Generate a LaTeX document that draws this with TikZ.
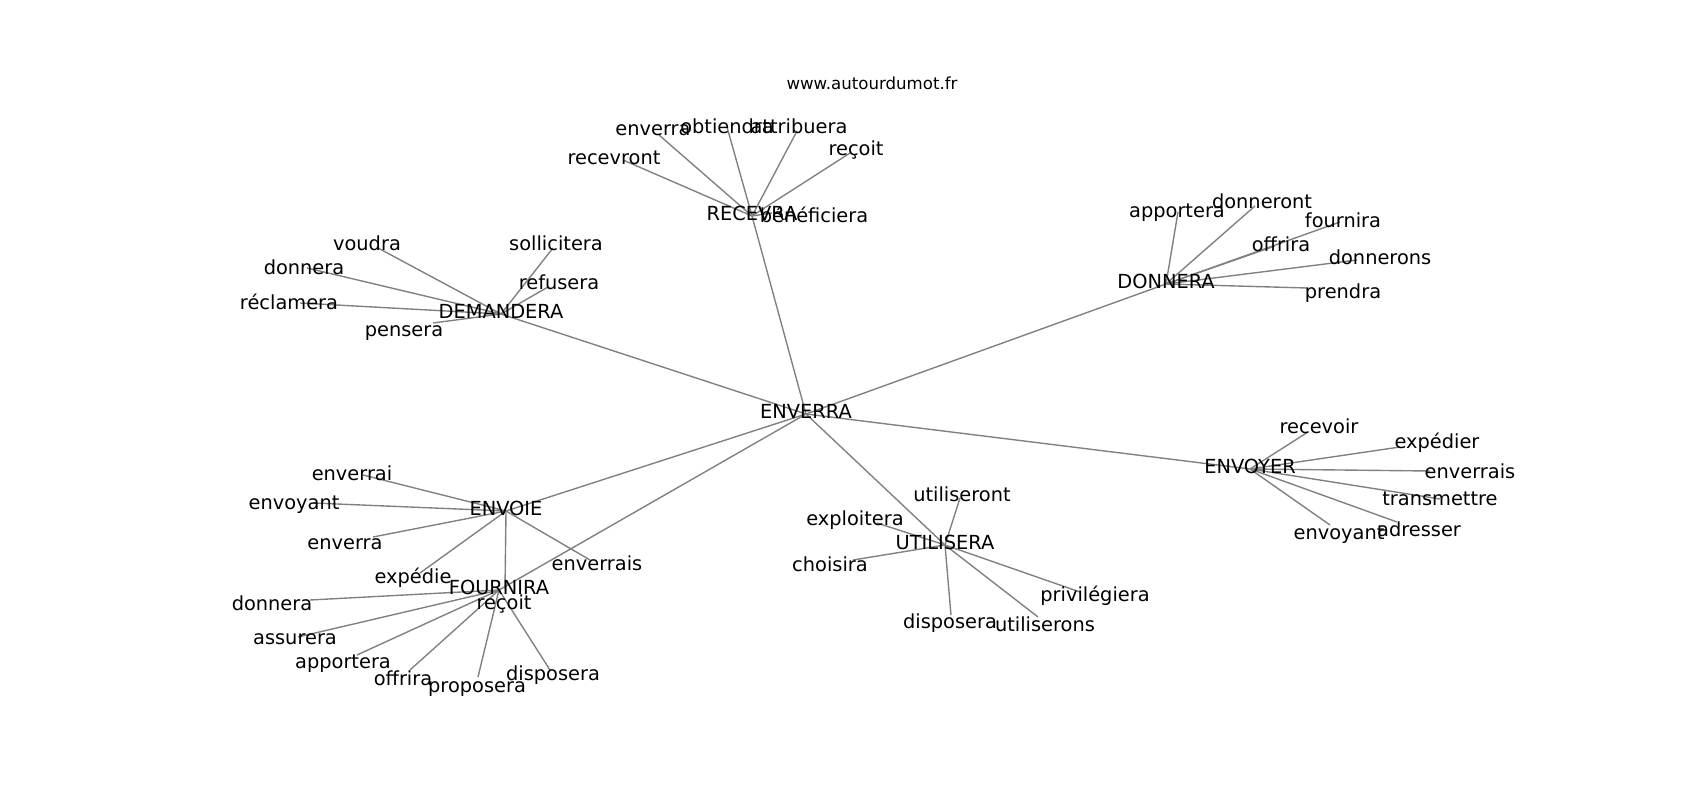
\documentclass[tikz,border=0pt]{standalone}
\usepackage{fontspec}
\setmainfont{DejaVu Sans}
\usetikzlibrary{backgrounds}

\tikzset{
	word/.style={font=\fontsize{14}{16}\selectfont, inner sep=0pt, text height=10.6pt, text depth=3.4pt, anchor=center, yshift=-2pt},
	hub/.style={font=\fontsize{14}{16}\selectfont, inner sep=0pt, text height=10.6pt, text depth=3.4pt, anchor=center},
	site/.style={font=\fontsize{12}{14}\selectfont, inner sep=0pt, text height=9.1pt, text depth=2.9pt},
	link/.style={draw=black!50, line width=1pt},
}

\begin{document}
\begin{tikzpicture}[x=0.01in, y=-0.01in]

	% ------------------------------------------------
	% Keep the frame of the whole figure
	\useasboundingbox (0,0) rectangle (1700,800);

	\node[site] (Site) at (872,85) {www.autourdumot.fr};

	% ------------------------------------------------
	% Hubs
	\node[hub] (Env) at (806,414) {ENVERRA};
	\node[hub] (Rec) at (752,216) {RECEVRA};
	\node[hub] (Dem) at (501,314) {DEMANDERA};
	\node[hub] (Don) at (1166,284) {DONNERA};
	\node[hub] (Voy) at (1250,469) {ENVOYER};
	\node[hub] (Uti) at (945,545) {UTILISERA};
	\node[hub] (Voi) at (506,511) {ENVOIE};
	\node[hub] (Fou) at (499,590) {FOURNIRA};

	% ----------------
	% RECEVRA
	\coordinate (RecA) at (623,160);  \node[word] (RecAText) at (614,157) {recevront};
	\coordinate (RecB) at (659,135);  \node[word] (RecBText) at (653,128) {enverra};
	\coordinate (RecC) at (727,127);  \node[word] (RecCText) at (727,126) {obtiendra};
	\coordinate (RecD) at (797,131);  \node[word] (RecDText) at (799,126) {attribuera};
	\coordinate (RecE) at (850,153);  \node[word] (RecEText) at (856,148) {reçoit};
	\coordinate (RecF) at (772,213);  \node[word] (RecFText) at (814,215) {bénéficiera};

	% ----------------
	% DEMANDERA
	\coordinate (DemA) at (378,248);  \node[word] (DemAText) at (367,243) {voudra};
	\coordinate (DemB) at (553,248);  \node[word] (DemBText) at (556,243) {sollicitera};
	\coordinate (DemC) at (307,268);  \node[word] (DemCText) at (304,267) {donnera};
	\coordinate (DemD) at (300,303);  \node[word] (DemDText) at (289,302) {réclamera};
	\coordinate (DemE) at (548,287);  \node[word] (DemEText) at (559,282) {refusera};
	\coordinate (DemF) at (433,323);  \node[word] (DemFText) at (404,329) {pensera};

	% ----------------
	% DONNERA
	\coordinate (DonA) at (1178,212); \node[word] (DonAText) at (1177,210) {apportera};
	\coordinate (DonB) at (1255,206); \node[word] (DonBText) at (1262,201) {donneront};
	\coordinate (DonC) at (1340,222); \node[word] (DonCText) at (1343,220) {fournira};
	\coordinate (DonD) at (1275,246); \node[word] (DonDText) at (1281,244) {offrira};
	\coordinate (DonE) at (1357,260); \node[word] (DonEText) at (1380,257) {donnerons};
	\coordinate (DonF) at (1307,288); \node[word] (DonFText) at (1343,291) {prendra};

	% ----------------
	% ENVOYER
	\coordinate (VoyA) at (1308,432); \node[word] (VoyAText) at (1319,426) {recevoir};
	\coordinate (VoyB) at (1400,447); \node[word] (VoyBText) at (1437,441) {expédier};
	\coordinate (VoyC) at (1430,471); \node[word] (VoyCText) at (1470,471) {enverrais};
	\coordinate (VoyD) at (1440,499); \node[word] (VoyDText) at (1440,498) {transmettre};
	\coordinate (VoyE) at (1397,522); \node[word] (VoyEText) at (1419,529) {adresser};
	\coordinate (VoyF) at (1330,525); \node[word] (VoyFText) at (1339,532) {envoyant};

	% ----------------
	% UTILISERA
	\coordinate (UtiA) at (960,498);  \node[word] (UtiAText) at (962,494) {utiliseront};
	\coordinate (UtiB) at (877,523);  \node[word] (UtiBText) at (855,518) {exploitera};
	\coordinate (UtiC) at (853,560);  \node[word] (UtiCText) at (830,564) {choisira};
	\coordinate (UtiD) at (951,615);  \node[word] (UtiDText) at (950,621) {disposera};
	\coordinate (UtiE) at (1038,617); \node[word] (UtiEText) at (1045,624) {utiliserons};
	\coordinate (UtiF) at (1080,592); \node[word] (UtiFText) at (1095,594) {privilégiera};

	% ----------------
	% ENVOIE
	\coordinate (VoiA) at (363,475);  \node[word] (VoiAText) at (352,473) {enverrai};
	\coordinate (VoiB) at (313,503);  \node[word] (VoiBText) at (294,502) {envoyant};
	\coordinate (VoiC) at (373,537);  \node[word] (VoiCText) at (345,542) {enverra};
	\coordinate (VoiD) at (420,573);  \node[word] (VoiDText) at (413,576) {expédie};
	\coordinate (VoiE) at (590,560);  \node[word] (VoiEText) at (597,563) {enverrais};
	\coordinate (VoiF) at (505,589);  \node[word] (VoiFText) at (504,602) {reçoit};

	% ----------------
	% FOURNIRA
	\coordinate (FouA) at (310,600);  \node[word] (FouAText) at (272,603) {donnera};
	\coordinate (FouB) at (298,637);  \node[word] (FouBText) at (295,637) {assurera};
	\coordinate (FouC) at (357,655);  \node[word] (FouCText) at (343,661) {apportera};
	\coordinate (FouD) at (410,670);  \node[word] (FouDText) at (403,678) {offrira};
	\coordinate (FouE) at (478,677);  \node[word] (FouEText) at (477,685) {proposera};
	\coordinate (FouF) at (550,670);  \node[word] (FouFText) at (553,673) {disposera};

	% ------------------------------------------------
	% Links, under the words
	\begin{pgfonlayer}{background}
		\foreach \hub in {Rec,Dem,Don,Voy,Uti,Voi,Fou}
			\draw[link] (Env.center) -- (\hub.center);
		\foreach \hub in {Rec,Dem,Don,Voy,Uti,Voi,Fou}
			\foreach \leaf in {A,B,C,D,E,F}
				\draw[link] (\hub.center) -- (\hub\leaf);
	\end{pgfonlayer}

\end{tikzpicture}
\end{document}
